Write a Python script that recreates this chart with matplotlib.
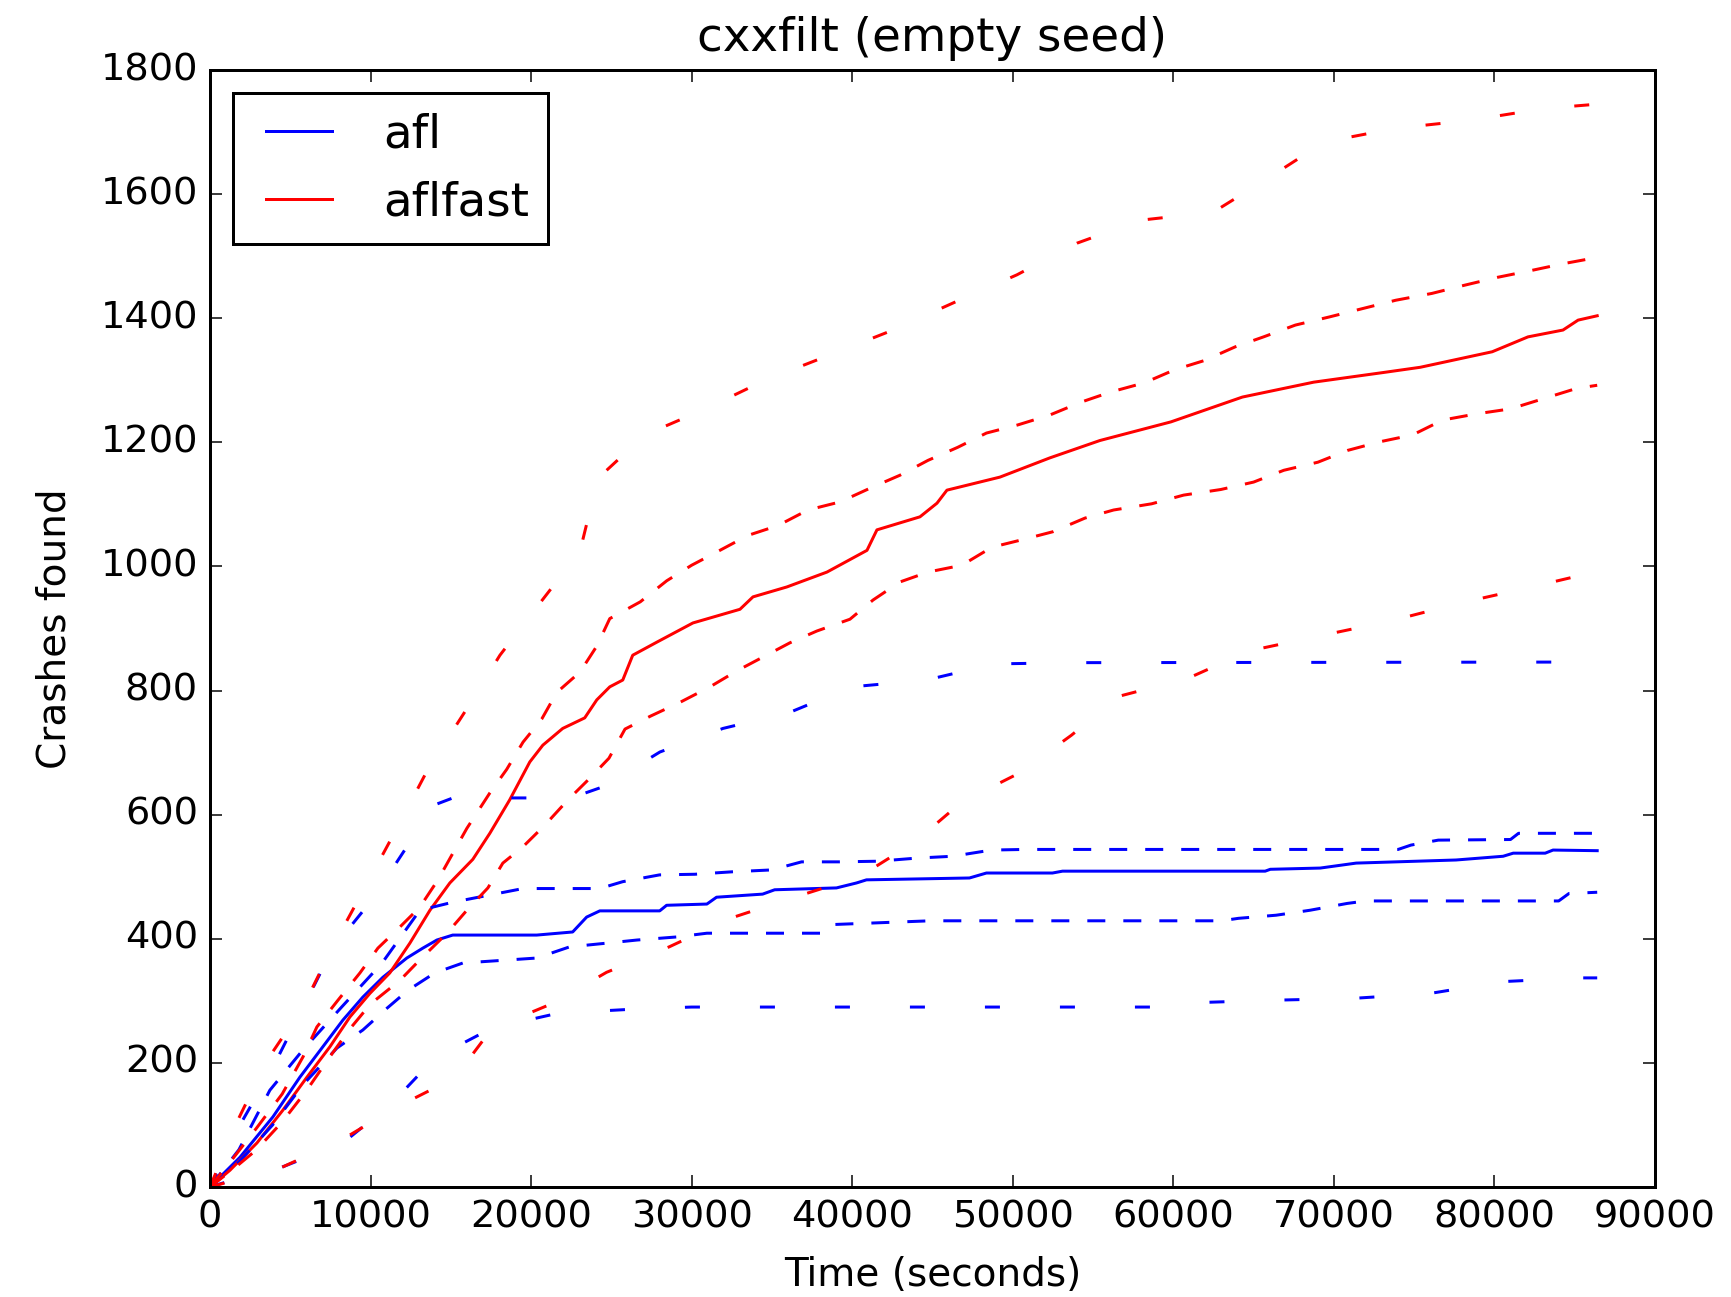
import matplotlib
matplotlib.use("Agg")
import matplotlib.pyplot as plt

plt.style.use("classic")

# afl (blue): mean and spread lines
afl_mean_t = [0, 1870, 3920, 5600, 7030, 8280, 9520, 10770, 12260, 13260, 14130, 15120,
              20350, 22590, 23460, 24280, 28010, 28440, 30950, 31550, 34420, 35170, 39020,
              40270, 40890, 47300, 48360, 52470, 53100, 65720, 66040, 69150, 71390, 77610,
              80540, 81170, 83160, 83650, 86400]
afl_mean = [0, 48, 113, 177, 226, 269, 306, 338, 369, 385, 398, 406,
            406, 411, 435, 445, 445, 454, 456, 467, 472, 479, 482,
            490, 495, 498, 506, 506, 509, 509, 512, 514, 522, 527,
            533, 538, 538, 543, 542]

afl_hi_t = [0, 1800, 3730, 5790, 8200, 10720, 13070, 15130, 19500, 22220, 24280, 25700,
            28000, 30190, 32550, 34980, 36850, 39210, 41580, 44000, 46250, 48670, 50720,
            74000, 74800, 76500, 81000, 81500, 86400]
afl_hi = [0, 60, 156, 221, 290, 361, 446, 459, 481, 481, 481, 492,
          503, 504, 508, 511, 524, 524, 525, 530, 533, 543, 544,
          544, 551, 559, 560, 570, 570]

afl_lo_t = [0, 1800, 3900, 5800, 7910, 9520, 11020, 12330, 14000, 15750, 20350, 22400,
            24710, 26590, 29080, 30950, 38000, 38820, 44850, 63000, 64060, 66400, 68510,
            70830, 72000, 84000, 84640, 86400]
afl_lo = [0, 40, 100, 165, 224, 253, 288, 317, 345, 361, 369, 387,
          393, 398, 403, 409, 409, 423, 429, 429, 433, 438, 446,
          457, 461, 461, 473, 475]

afl_max_t = [0, 1870, 3920, 7660, 10100, 12330, 13400, 15130, 22500, 24480, 28020, 31950,
             36120, 39960, 44620, 48860, 53960, 86400]
afl_max = [0, 100, 193, 385, 463, 551, 610, 627, 627, 645, 701, 739,
           765, 806, 817, 843, 845, 846]

afl_min_t = [0, 1870, 4480, 8280, 11330, 14000, 17550, 21670, 26650, 30000, 60000, 61300,
             66200, 71200, 76000, 80500, 85300, 86400]
afl_min = [0, 15, 32, 71, 135, 208, 256, 280, 287, 290, 290, 297,
           301, 304, 312, 331, 337, 337]

# aflfast (red)
fast_mean_t = [0, 1245, 2925, 4545, 6040, 7470, 8715, 9960, 11200, 12450, 13700, 14940,
               16370, 17430, 18670, 19920, 20730, 21970, 23340, 24090, 24900, 25710, 26330,
               27830, 30080, 33010, 33820, 35930, 38430, 40920, 41540, 44220, 45280, 45900,
               49200, 52310, 55430, 59850, 64300, 68740, 73200, 75380, 79860, 82090, 84270,
               85210, 86400]
fast_mean = [0, 27, 71, 124, 177, 226, 274, 312, 345, 393, 446, 490,
             528, 570, 624, 685, 712, 739, 756, 785, 806, 817, 857,
             878, 909, 931, 951, 967, 991, 1026, 1059, 1080, 1102, 1123,
             1144, 1175, 1203, 1233, 1273, 1297, 1313, 1321, 1346, 1370, 1381,
             1397, 1404]

fast_hi_t = [0, 1250, 2900, 4500, 5800, 6660, 7970, 9340, 10460, 11830, 13070, 14200,
             15130, 16000, 17430, 18480, 19500, 20660, 21600, 23050, 24100, 24900, 26800,
             28450, 30000, 31760, 33500, 35380, 37240, 39240, 41100, 42970, 44720, 46570,
             48360, 50300, 52300, 54270, 56080, 58200, 60080, 61950, 63860, 65620, 67600,
             69700, 71850, 73850, 76100, 78100, 80200, 82300, 84300, 86400]
fast_hi = [0, 40, 95, 150, 210, 258, 301, 345, 385, 419, 451, 495,
           538, 578, 635, 673, 717, 754, 797, 830, 872, 916, 943,
           977, 1002, 1026, 1050, 1066, 1091, 1104, 1126, 1147, 1171, 1192,
           1215, 1228, 1244, 1265, 1281, 1296, 1317, 1332, 1354, 1370, 1389,
           1402, 1416, 1429, 1440, 1453, 1466, 1477, 1488, 1498]

fast_lo_t = [0, 1500, 2900, 4500, 6000, 7470, 8720, 10000, 11830, 13070, 14760, 16000,
             17310, 18240, 19480, 20850, 22300, 23550, 24850, 25850, 27450, 29270, 31140,
             32830, 34440, 36120, 37800, 39860, 41300, 42970, 44720, 46830, 48700, 50570,
             52500, 54500, 56280, 58650, 60640, 62950, 65000, 66880, 69000, 70850, 72870,
             74900, 76780, 78900, 81000, 83000, 85120, 86400]
fast_lo = [0, 30, 60, 105, 155, 210, 255, 295, 333, 366, 409, 446,
           482, 522, 548, 583, 624, 656, 691, 738, 759, 781, 806,
           832, 854, 877, 896, 915, 946, 975, 991, 1002, 1031, 1043,
           1056, 1078, 1091, 1101, 1115, 1124, 1136, 1155, 1168, 1187, 1201,
           1212, 1236, 1246, 1254, 1270, 1287, 1292]

fast_max_t = [0, 1740, 3550, 5790, 7600, 9700, 11640, 13570, 15880, 18060, 20550, 23040,
              24160, 27090, 30950, 34560, 38620, 42540, 46400, 50260, 54000, 57950, 62490,
              66040, 69400, 73820, 78490, 83090, 86400]
fast_max = [0, 108, 204, 290, 385, 485, 578, 673, 766, 857, 941, 1024,
            1142, 1212, 1255, 1300, 1341, 1381, 1426, 1470, 1521, 1558, 1571,
            1628, 1684, 1706, 1719, 1738, 1745]

fast_min_t = [0, 4500, 8200, 11650, 15250, 17550, 21350, 24700, 28600, 32400, 36400, 40450,
              43900, 46800, 50400, 53650, 56640, 60930, 64730, 69090, 73500, 77860, 82150,
              86400]
fast_min = [0, 32, 76, 129, 176, 255, 296, 346, 387, 433, 467, 500,
            556, 620, 667, 728, 791, 820, 864, 888, 912, 941, 966,
            992]

fig = plt.figure(figsize=(1731 / 216, 1297 / 216), dpi=216)
ax = fig.add_axes([0.1213, 0.0848, 0.8348, 0.8612])

ax.plot(afl_mean_t, afl_mean, color="b", lw=1, label="afl")
ax.plot(fast_mean_t, fast_mean, color="r", lw=1, label="aflfast")

inner = (6, 6)
outer = (5, 20)
ax.plot(afl_hi_t, afl_hi, color="b", lw=1, dashes=inner)
ax.plot(afl_lo_t, afl_lo, color="b", lw=1, dashes=inner)
ax.plot(afl_max_t, afl_max, color="b", lw=1, dashes=outer)
ax.plot(afl_min_t, afl_min, color="b", lw=1, dashes=outer)
ax.plot(fast_hi_t, fast_hi, color="r", lw=1, dashes=inner)
ax.plot(fast_lo_t, fast_lo, color="r", lw=1, dashes=inner)
ax.plot(fast_max_t, fast_max, color="r", lw=1, dashes=outer)
ax.plot(fast_min_t, fast_min, color="r", lw=1, dashes=outer)

ax.set_xlim(0, 90000)
ax.set_ylim(0, 1800)
ax.set_xticks(range(0, 90001, 10000))
ax.set_yticks(range(0, 1801, 200))
ax.tick_params(labelsize=12.8)
ax.set_title("cxxfilt (empty seed)", fontsize=15.6, pad=6.5)
ax.set_xlabel("Time (seconds)", fontsize=13, labelpad=7)
ax.set_ylabel("Crashes found", fontsize=13, labelpad=9)
ax.legend(loc="upper left", fontsize=15.6)

fig.savefig("out.png", dpi=216)
